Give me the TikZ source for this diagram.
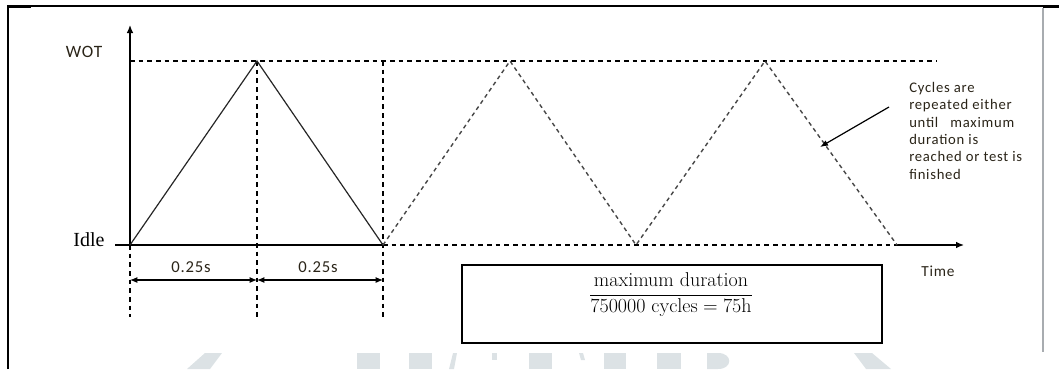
\documentclass[tikz,border=0pt]{standalone}
\usepackage{amsmath}
\usepackage{fontspec}
\usetikzlibrary{arrows.meta}
\newfontfamily\lblfont[LetterSpace=5]{Carlito}
\newfontfamily\idlefont{Liberation Serif}
\definecolor{lbltext}{HTML}{2A2418}
\definecolor{wmark}{HTML}{DCE2E5}
\definecolor{framegray}{HTML}{A8ACB0}
\tikzset{
  axisline/.style={line width=1pt, -{Latex[length=6pt,width=5pt]}},
  curve/.style={line width=0.9pt, black!85},
  guide/.style={line width=0.9pt, dash pattern=on 3.6pt off 2.9pt},
  repeatcurve/.style={line width=1.05pt, black!72, dash pattern=on 3pt off 2.6pt},
  dimarrow/.style={line width=0.8pt, {Latex[length=5.5pt,width=4.5pt]}-{Latex[length=5.5pt,width=4.5pt]}},
  lbl/.style={font=\lblfont\fontsize{12.5}{14}\selectfont, text=lbltext, inner sep=0pt},
}
\begin{document}
\begin{tikzpicture}[x=0.75pt,y=-0.75pt]
\useasboundingbox (0,0) rectangle (1059,369);

% page frame
\draw[line width=0.9pt] (8,369) -- (8,6) -- (1059,6);
\draw[line width=2pt] (8,6.5) -- (31,6.5);
\draw[line width=2pt] (1043,6.5) -- (1059,6.5);
\draw[line width=0.9pt, framegray] (1043,8) -- (1043,352);

% watermark fragments along the bottom edge
\begin{scope}[fill=wmark]
  \fill (205,353) -- (222,353) -- (210,369) -- (187,369) -- cycle;
  \fill (357,353) rectangle (380,369);
  \fill (409,353) rectangle (432,369);
  \fill (453,353) -- (457,353) -- (454,369) -- (449,369) -- cycle;
  \fill (492,353) rectangle (497,360);
  \fill (529,353) rectangle (552,369);
  \fill (579,353) -- (583,353) -- (585,360) -- (581,360) -- cycle;
  \fill (604,353) rectangle (626,369);
  \fill (657,353) rectangle (681,369);
  \fill (707,353) -- (718,353) .. controls (733,353) and (733,369) .. (718,369) -- (707,369) -- cycle;
  \fill (854,353) -- (872,353) -- (891,369) -- (866,369) -- cycle;
\end{scope}

% key points
\coordinate (O) at (130,245);
\coordinate (ytip) at (130,25);
\coordinate (xend) at (897,245);
\coordinate (xtip) at (964,245);
\coordinate (p1) at (257,61);
\coordinate (v1) at (383,245);
\coordinate (p2) at (510,61);
\coordinate (v2) at (636,245);
\coordinate (p3) at (765,61);
\coordinate (wotL) at (130,61);
\coordinate (wotR) at (937,61);
\coordinate (g0) at (130,317);
\coordinate (g1) at (257,317);
\coordinate (g2) at (383,317);
\coordinate (g2top) at (383,61);
\coordinate (d0) at (130,280);
\coordinate (d1) at (257,280);
\coordinate (d2) at (383,280);

% level guides and time markers
\draw[guide] (wotL) -- (wotR);
\draw[guide] (O) -- (g0);
\draw[guide] (p1) -- (g1);
\draw[guide] (g2top) -- (g2);
\draw[guide] (v1) -- (xend);

% axes
\draw[line width=1pt] (115,245) -- (v1);
\draw[axisline] (xend) -- (xtip);
\draw[axisline] (O) -- (ytip);

% first cycle
\draw[curve] (O) -- (p1) -- (v1);

% repeated cycles
\draw[repeatcurve] (v1) -- (p2) -- (v2) -- (p3) -- (xend);

% durations
\draw[dimarrow] (d0) -- (d1);
\draw[dimarrow] (d1) -- (d2);
\node[lbl] (t1) at (191,267) {0.25s};
\node[lbl] (t2) at (318,267) {0.25s};

% axis labels
\node[lbl, font=\lblfont\fontsize{13}{15}\selectfont] (wot) at (84,52) {WOT};
\node[inner sep=0pt, font=\idlefont\fontsize{15}{17}\selectfont] (idle) at (89,240) {Idle};
\node[lbl, font=\lblfont\fontsize{11.5}{13}\selectfont] (time) at (938,271) {Time};

% note on the repeated cycles
\node[lbl, font=\lblfont\fontsize{11}{13}\selectfont, align=left, anchor=north west] (note) at (909,82)
  {Cycles are\\ repeated either\\ until\ \ \ maximum\\ duration is\\ reached or test is\\ finished};
\coordinate (nstart) at (889,107);
\coordinate (nend) at (820,147);
\draw[line width=0.9pt, -{Latex[length=6pt,width=4.5pt]}] (nstart) -- (nend);

% duration box
\node[draw, line width=1.8pt, minimum width=315pt, minimum height=58.5pt, inner sep=0pt] (box) at (672,304) {};
\node[inner sep=0pt, font=\fontsize{15}{17}\selectfont] (frac) at (671,295)
  {$\dfrac{\text{maximum duration}}{\text{750000 cycles} = \text{75h}}$};
\end{tikzpicture}
\end{document}
